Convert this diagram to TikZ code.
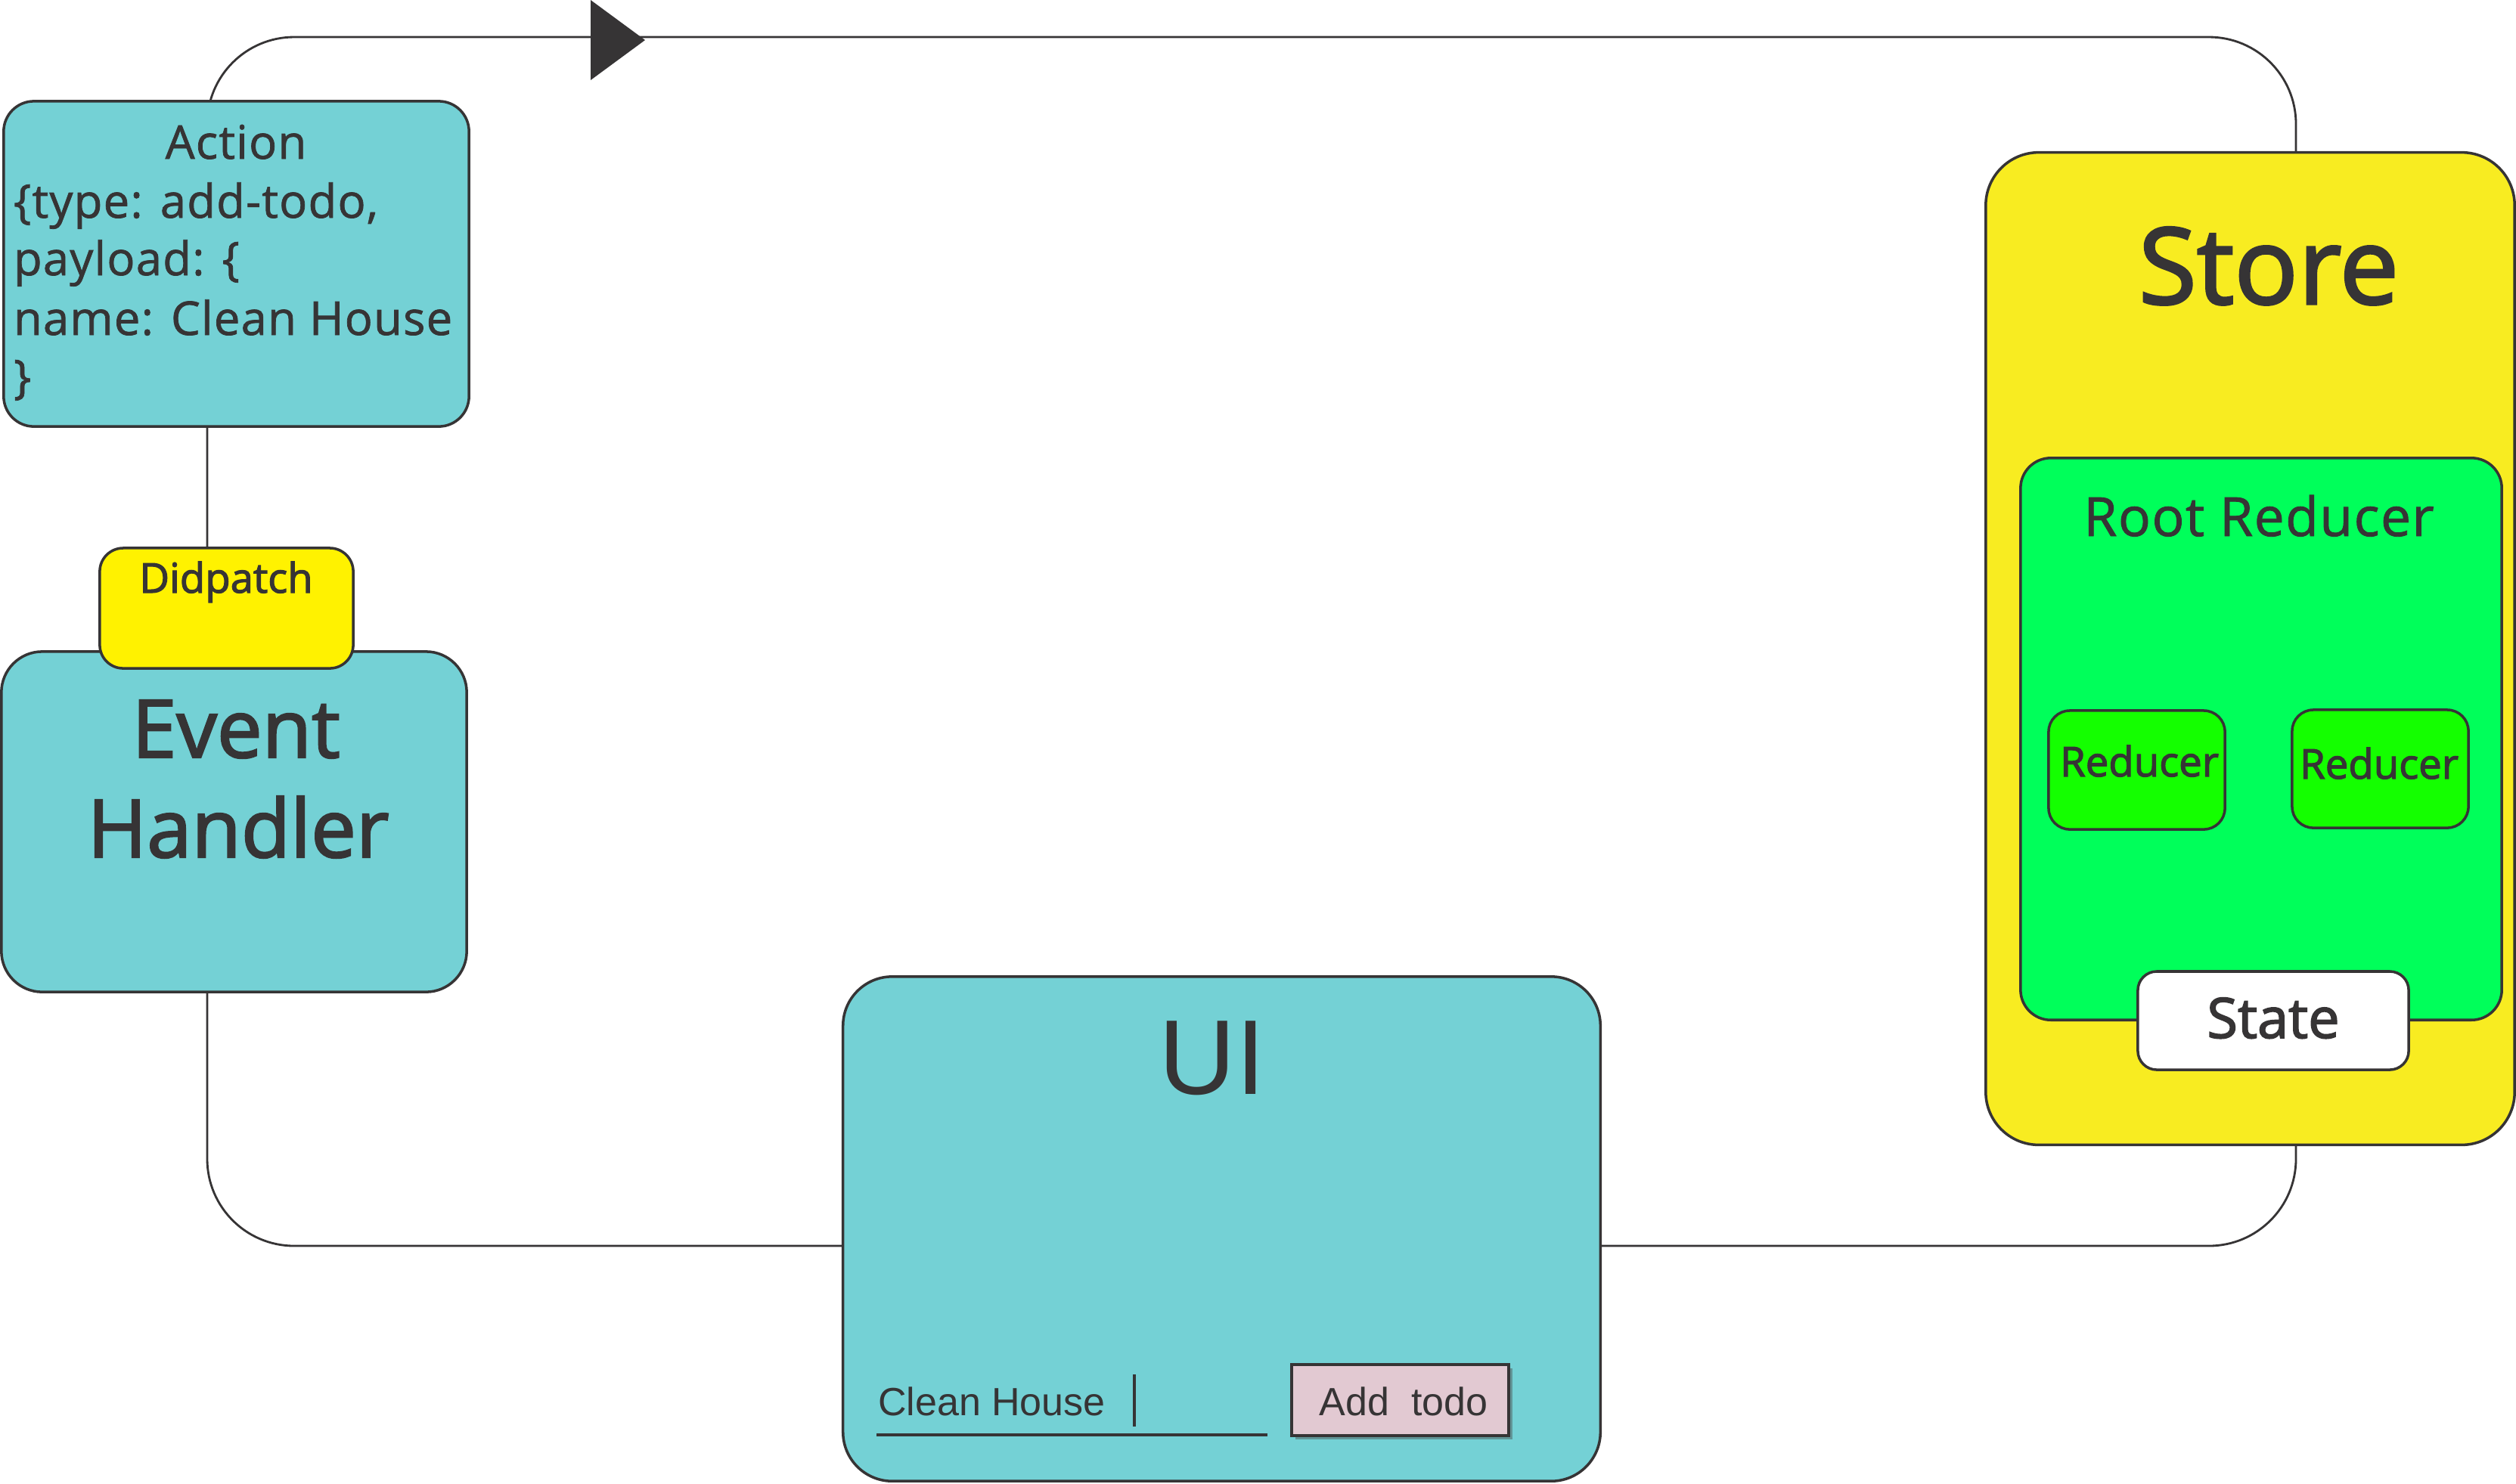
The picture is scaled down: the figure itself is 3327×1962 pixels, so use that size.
\documentclass[tikz,border=0pt]{standalone}
\usepackage{fontspec}
\setmainfont{Open Sans}
\newfontfamily\medf{Open Sans}[FakeBold=1.2, LetterSpace=2]
\newfontfamily\semib{Open Sans}[FakeBold=2.2]
\newfontfamily\arialf{Liberation Sans}
\usetikzlibrary{shadows}
\definecolor{ink}{HTML}{363435}
\definecolor{cyanbox}{HTML}{74D1D5}
\definecolor{dispy}{HTML}{FFF200}
\definecolor{storey}{HTML}{F8EC21}
\definecolor{rootg}{HTML}{00FF5A}
\definecolor{redg}{HTML}{14FF00}
\definecolor{btnpink}{HTML}{E2C9D2}
\tikzset{
  box/.style={draw=ink, line width=1pt, inner sep=0pt, outer sep=0pt, rectangle},
  loopline/.style={draw=ink, line width=0.8pt},
  txt/.style={inner sep=0pt, outer sep=0pt, anchor=base, text=ink},
  ltxt/.style={inner sep=0pt, outer sep=0pt, anchor=base west, text=ink},
  acttext/.style={font=\fontsize{17.5pt}{21pt}\medf},
}
\begin{document}
\begin{tikzpicture}[x=0.01cm, y=-0.01cm]
\useasboundingbox (0,0) rectangle (3327,1962);
% loop connector
\coordinate (looptl) at (274,49);
\coordinate (loopbr) at (3036,1648);
\draw[loopline, rounded corners=1.15cm] (looptl) rectangle (loopbr);
\coordinate (arrA) at (781,0);
\coordinate (arrB) at (781,106);
\coordinate (arrC) at (853,53);
\fill[ink] (arrA) -- (arrB) -- (arrC) -- cycle;

% Action
\node[box, fill=cyanbox, rounded corners=0.4cm, minimum width=6.15cm, minimum height=4.30cm] (action) at (312.5,349) {};
\node[txt, acttext] (actT) at (312,210) {Action};
\node[ltxt, acttext] (actL1) at (18,288) {\{type: add-todo,};
\node[ltxt, acttext] (actL2) at (18,364) {payload: \{};
\node[ltxt, acttext] (actL3) at (18,443) {name: Clean House};
\node[ltxt, acttext] (actL4) at (18,520) {\}};

% Event handler
\node[box, fill=cyanbox, rounded corners=0.54cm, minimum width=6.15cm, minimum height=4.50cm] (event) at (309.5,1087) {};
\node[txt, font=\fontsize{30.3pt}{36pt}\semib] (evT1) at (312,1002) {Event};
\node[txt, font=\fontsize{30.3pt}{36pt}\semib] (evT2) at (315,1134) {Handler};

% Didpatch
\node[box, fill=dispy, rounded corners=0.31cm, minimum width=3.35cm, minimum height=1.59cm] (disp) at (299.5,804.5) {};
\node[txt, font=\fontsize{15.5pt}{18pt}\semib] (dispT) at (299,784) {Didpatch};

% UI
\node[box, fill=cyanbox, rounded corners=0.65cm, minimum width=10.01cm, minimum height=6.67cm] (ui) at (1615.5,1625.5) {};
\node[txt, font=\fontsize{40pt}{46pt}\arialf] (uiT) at (1603,1447) {UI};
\node[ltxt, font=\fontsize{14.8pt}{17pt}\arialf] (field) at (1161,1872) {Clean House};
\coordinate (curT) at (1500,1818);
\coordinate (curB) at (1500,1887);
\draw[ink, line width=1.3pt] (curT) -- (curB);
\coordinate (ulL) at (1159,1898);
\coordinate (ulR) at (1676,1898);
\draw[ink, line width=1.2pt] (ulL) -- (ulR);
\node[box, fill=btnpink, line width=1.1pt, minimum width=2.87cm, minimum height=0.94cm,
  drop shadow={shadow xshift=0.05cm, shadow yshift=-0.05cm, opacity=0.45, fill=black!70}] (btn) at (1851.5,1852) {};
\node[txt, font=\fontsize{14.8pt}{17pt}\arialf] (btnT) at (1856,1872) {Add\ \ todo};

% Store
\node[box, fill=storey, rounded corners=0.7cm, minimum width=6.99cm, minimum height=13.12cm] (store) at (2975.5,858) {};
\node[txt, font=\fontsize{39.9pt}{46pt}\semib] (storeT) at (3000,402) {Store};
\node[box, fill=rootg, rounded corners=0.4cm, minimum width=6.36cm, minimum height=7.43cm] (root) at (2990,977.5) {};
\node[txt, font=\fontsize{20.3pt}{24pt}\medf] (rootT) at (2987,709) {Root Reducer};
\node[box, fill=redg, rounded corners=0.28cm, minimum width=2.33cm, minimum height=1.57cm] (red1) at (2825.5,1018.5) {};
\node[txt, font=\fontsize{15.5pt}{18pt}\semib] (red1T) at (2829,1027) {Reducer};
\node[box, fill=redg, rounded corners=0.28cm, minimum width=2.33cm, minimum height=1.56cm] (red2) at (3147.5,1017) {};
\node[txt, font=\fontsize{15.5pt}{18pt}\semib] (red2T) at (3146,1030) {Reducer};
\node[box, fill=white, rounded corners=0.25cm, minimum width=3.58cm, minimum height=1.30cm] (state) at (3006,1350) {};
\node[txt, font=\fontsize{21pt}{25pt}\semib] (stateT) at (3006,1373) {State};
\end{tikzpicture}
\end{document}
